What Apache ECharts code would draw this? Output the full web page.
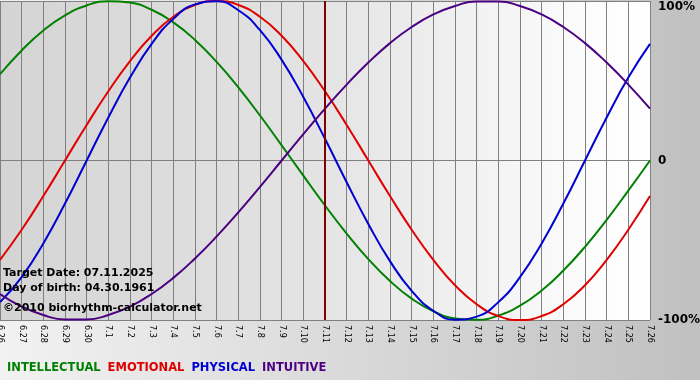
<!DOCTYPE html>
<html>
<head>
<meta charset="utf-8">
<script src="https://cdn.jsdelivr.net/npm/echarts@6/dist/echarts.min.js"></script>
<style>html,body{margin:0;padding:0;}#c{width:700px;height:380px;}</style>
</head>
<body>
<div id="c"></div>
<script>
var days = ['6.26','6.27','6.28','6.29','6.30','7.1','7.2','7.3','7.4','7.5','7.6','7.7','7.8','7.9','7.10','7.11','7.12','7.13','7.14','7.15','7.16','7.17','7.18','7.19','7.20','7.21','7.22','7.23','7.24','7.25','7.26'];
var intellectual = [54.1,69.0,81.5,91.0,97.2,99.9,99.0,94.5,86.6,75.6,61.8,45.8,28.2,9.5,-9.5,-28.2,-45.8,-61.8,-75.6,-86.6,-94.5,-99.0,-99.9,-97.2,-91.0,-81.5,-69.0,-54.1,-37.2,-18.9,0];
var emotional = [-62.3,-43.4,-22.3,0,22.3,43.4,62.3,78.2,90.1,97.5,100,97.5,90.1,78.2,62.3,43.4,22.3,0,-22.3,-43.4,-62.3,-78.2,-90.1,-97.5,-100,-97.5,-90.1,-78.2,-62.3,-43.4,-22.3];
var physical = [-88.8,-73.1,-52.0,-27.0,0,27.0,52.0,73.1,88.8,97.9,99.8,94.2,81.7,63.1,39.8,13.6,-13.6,-39.8,-63.1,-81.7,-94.2,-99.8,-97.9,-88.8,-73.1,-52.0,-27.0,0,27.0,52.0,73.1];
var intuitive = [-83.7,-91.6,-96.9,-99.7,-99.7,-96.9,-91.6,-83.7,-73.6,-61.4,-47.6,-32.5,-16.5,0,16.5,32.5,47.6,61.4,73.6,83.7,91.6,96.9,99.7,99.7,96.9,91.6,83.7,73.6,61.4,47.6,32.5];
var yTicks = {'100':'100%','0':'0','-100':'-100%'};
var targetDay = '7.11';
var infoLines = ['Target Date: 07.11.2025','Day of birth: 04.30.1961','\u00a92010 biorhythm-calculator.net'];

var FONT = 'DejaVu Sans';
var chart = echarts.init(document.getElementById('c'));
function ser(name, data, color, extra) {
  var s = {name:name, type:'line', data:data, smooth:true, symbol:'none',
    lineStyle:{color:color, width:2}, itemStyle:{color:color}, z:3};
  if (extra) for (var k in extra) s[k] = extra[k];
  return s;
}
var option = {
  animation:false,
  backgroundColor: new echarts.graphic.LinearGradient(0,0,1,0,[{offset:0,color:'#f2f2f2'},{offset:1,color:'#c0c0c0'}]),
  grid:{left:0, right:50, top:1, bottom:60, show:true, borderWidth:0, containLabel:false, outerBoundsMode:'none',
    backgroundColor: new echarts.graphic.LinearGradient(0,0,1,0,[{offset:0,color:'#d4d4d4'},{offset:0.5,color:'#e4e4e4'},{offset:0.9,color:'#fcfcfc'},{offset:1,color:'#ffffff'}])},
  legend:{left:2, bottom:6, itemWidth:0, itemHeight:0, itemGap:2, icon:'none', padding:0,
    data:[
      {name:'INTELLECTUAL', textStyle:{color:'#008000'}},
      {name:'EMOTIONAL', textStyle:{color:'#e00000'}},
      {name:'PHYSICAL', textStyle:{color:'#0000d0'}},
      {name:'INTUITIVE', textStyle:{color:'#4b0082'}}],
    textStyle:{fontFamily:FONT, fontWeight:'bold', fontSize:11.5, padding:0}},
  xAxis:{type:'category', data:days, boundaryGap:false,
    axisLine:{show:true, lineStyle:{color:'#808080', width:1}},
    axisTick:{show:true, length:4, lineStyle:{color:'#808080'}},
    splitLine:{show:true, lineStyle:{color:'#808080', width:1}},
    axisLabel:{rotate:-90, margin:5, fontFamily:FONT, fontSize:8, color:'#000', interval:0, showMinLabel:true, showMaxLabel:true}},
  yAxis:{type:'value', position:'right', min:-100, max:100, interval:100,
    axisLine:{show:false}, axisTick:{show:false},
    splitLine:{show:true, lineStyle:{color:'#808080', width:1}},
    axisLabel:{margin:8, fontFamily:FONT, fontWeight:'bold', fontSize:12, color:'#000',
      rich:{top:{fontFamily:FONT, fontWeight:'bold', fontSize:12, color:'#000', padding:[12,0,0,0]}},
      formatter:function(v){var t = yTicks[String(v)]; return v === 100 ? '{top|' + t + '}' : t;}}},
  graphic: infoLines.map(function(t,i){
    return {type:'text', left:3, top:[268,283,303][i], z:10,
      style:{text:t, fontFamily:FONT, fontWeight:'bold', fontSize:11, fill:'#000'}};
  }),
  series:[
    ser('INTELLECTUAL', intellectual, '#008000', {markLine:{silent:true, symbol:['none','none'], label:{show:false},
      lineStyle:{color:'#800000', width:2, type:'solid'}, data:[{xAxis:targetDay}]}}),
    ser('EMOTIONAL', emotional, '#e00000'),
    ser('PHYSICAL', physical, '#0000d0'),
    ser('INTUITIVE', intuitive, '#4b0082')
  ]
};
chart.setOption(option);
</script>
</body>
</html>
